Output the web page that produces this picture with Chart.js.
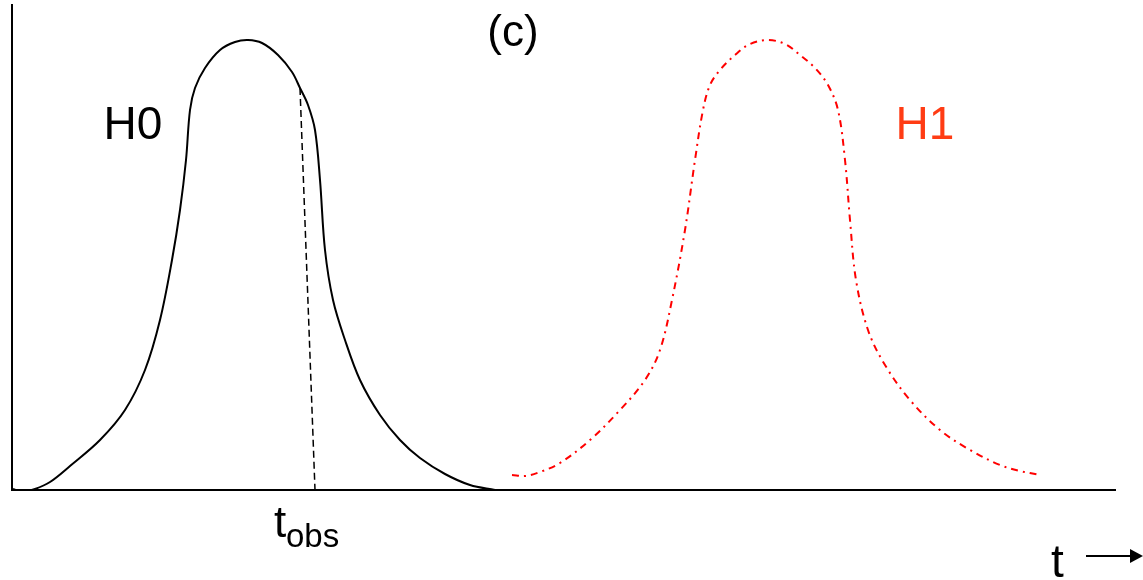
<!DOCTYPE html>
<html>
<head>
<meta charset="utf-8">
<script src="https://cdn.jsdelivr.net/npm/chart.js@4.4.0/dist/chart.umd.min.js"></script>
<style>
  html, body { margin: 0; padding: 0; background: #fff; }
  #wrap { width: 1143px; height: 580px; }
</style>
</head>
<body>
<div id="wrap"><canvas id="c"></canvas></div>
<script>
// H0 (null hypothesis) distribution
const h0T = [0.1, 1.0, 2.3, 3.8, 5.8, 8.8, 11.3, 13.3, 14.8, 16, 16.8, 17.4, 17.8, 18.3, 19.3, 20.8, 22.3, 23.6, 25, 26.6, 28, 28.8, 29.6, 30.3, 30.8, 31.3, 32.1, 33.3, 34.8, 36.8, 38.8, 40.8, 43.3, 45.8, 48.3];
const h0Y = [0.2, -0.4, 0.2, 1.6, 4.8, 10, 16, 24, 34, 46, 56, 66, 76, 80.4, 84.4, 88, 89.6, 90, 89.4, 87, 83.6, 80.4, 77, 72, 62, 48, 38, 30, 22, 15, 10, 6.4, 3.2, 1, 0];

// H1 (alternative) distribution
const h1T = [50, 51.3, 52.8, 54.8, 57.8, 60.8, 63.3, 64.8, 66, 67.3, 68.3, 69.1, 69.8, 70.8, 72.3, 73.8, 75.6, 77.3, 78.8, 80.3, 81.6, 82.6, 83.3, 83.8, 84.4, 85.6, 87.3, 89.8, 92.8, 95.8, 98.8, 100.8, 102.8];
const h1Y = [3, 2.8, 3.6, 5.4, 10, 16, 22, 28, 38, 52, 66, 76, 81, 84, 87, 89.2, 90, 89.2, 87, 84.4, 81, 76, 66, 54, 42, 32, 25, 18, 12, 8, 5, 3.8, 3];

// observed value marker
const obsT = [28.8, 30.3];
const obsY = [80.4, 0];

const toPts = (xs, ys) => xs.map((x, i) => ({ x, y: ys[i] }));

const FONT = "'Liberation Sans', Arial, sans-serif";

// ---------- labels + arrow ----------
const labelsPlugin = {
  id: "labels",
  afterDraw(chart) {
    const { ctx } = chart;
    ctx.save();
    ctx.textAlign = "center";
    ctx.textBaseline = "middle";
    ctx.fillStyle = "#000";

    ctx.font = "44px " + FONT;
    ctx.fillText("(c)", 513, 34);

    ctx.font = "46px " + FONT;
    ctx.fillText("H0", 133, 126);
    ctx.fillStyle = "#ff3c14";
    ctx.fillText("H1", 925, 126);

    // t_obs under the dashed line
    ctx.fillStyle = "#000";
    ctx.textAlign = "left";
    ctx.textBaseline = "alphabetic";
    ctx.font = "44px " + FONT;
    ctx.fillText("t", 274, 537);
    ctx.font = "33px " + FONT;
    ctx.fillText("obs", 286, 547);

    // t -->
    ctx.font = "46px " + FONT;
    ctx.fillText("t", 1051, 577);
    ctx.strokeStyle = "#000";
    ctx.lineWidth = 2;
    ctx.beginPath();
    ctx.moveTo(1086, 556);
    ctx.lineTo(1132, 556);
    ctx.stroke();
    ctx.beginPath();
    ctx.moveTo(1130, 549);
    ctx.lineTo(1143, 556);
    ctx.lineTo(1130, 563);
    ctx.closePath();
    ctx.fill();
    ctx.restore();
  },
};

new Chart(document.getElementById("c"), {
  type: "line",
  data: {
    datasets: [
      {
        label: "H0",
        data: toPts(h0T, h0Y),
        borderColor: "#000",
        borderWidth: 2,
        pointRadius: 0,
        tension: 0.35,
      },
      {
        label: "H1",
        data: toPts(h1T, h1Y),
        borderColor: "#ff0000",
        borderWidth: 2,
        borderDash: [7, 5, 2, 5],
        pointRadius: 0,
        tension: 0.35,
      },
      {
        label: "tobs",
        data: toPts(obsT, obsY),
        borderColor: "#000",
        borderWidth: 1.5,
        borderDash: [7, 4],
        pointRadius: 0,
      },
    ],
  },
  options: {
    responsive: true,
    maintainAspectRatio: false,
    animation: false,
    layout: { padding: { left: 4, right: 28, top: 5, bottom: 82 } },
    plugins: {
      legend: { display: false },
      tooltip: { enabled: false },
    },
    scales: {
      x: {
        type: "linear",
        min: 0,
        max: 110.3,
        grid: { display: false },
        ticks: { display: false },
        border: { display: true, color: "#000", width: 2 },
      },
      y: {
        min: 0,
        max: 97,
        grid: { display: false },
        ticks: { display: false },
        border: { display: true, color: "#000", width: 2 },
      },
    },
  },
  plugins: [labelsPlugin],
});
</script>
</body>
</html>
